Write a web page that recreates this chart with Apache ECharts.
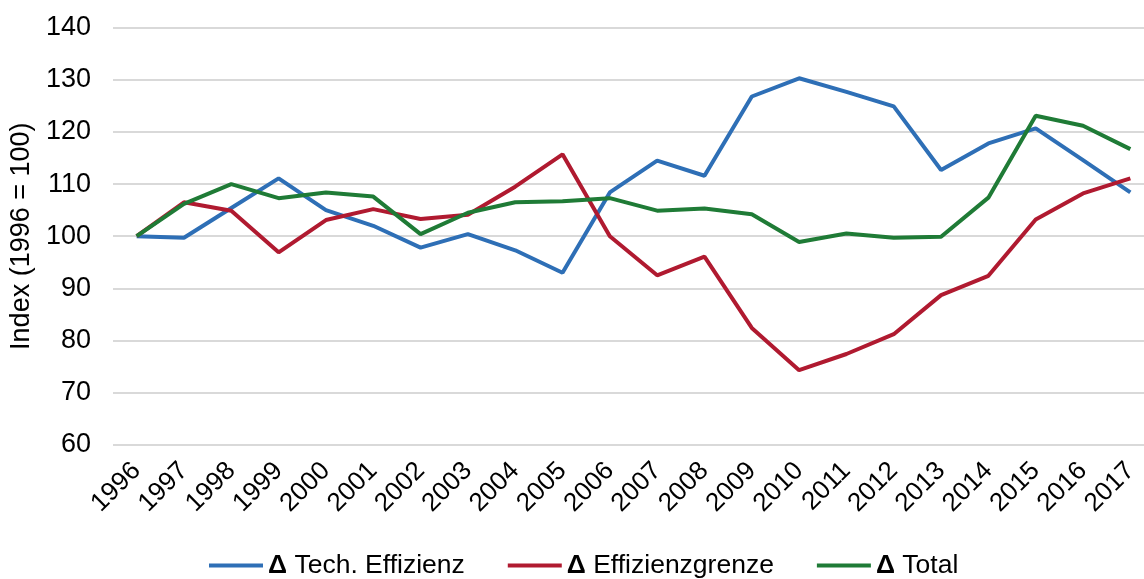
<!DOCTYPE html>
<html>
<head>
<meta charset="utf-8">
<script src="https://cdn.jsdelivr.net/npm/echarts@6/dist/echarts.min.js"></script>
<style>
  html, body { margin: 0; padding: 0; background: #fff; }
  #container { width: 1144px; height: 579px; }
</style>
</head>
<body>
<div id="container"></div>
<script>
var dom = document.getElementById('container');
var myChart = echarts.init(dom, null, { renderer: 'canvas' });

// Jahre (Kategorien)
var years = ['1996', '1997', '1998', '1999', '2000', '2001', '2002', '2003', '2004', '2005', '2006',
    '2007', '2008', '2009', '2010', '2011', '2012', '2013', '2014', '2015', '2016', '2017'];

// Indexwerte
var techEffizienz = [100, 99.7, 105.4, 111.1, 105.0, 102.0, 97.8, 100.4, 97.3, 93.0, 108.4,
    114.5, 111.6, 126.8, 130.3, 127.7, 124.9, 112.7, 117.8, 120.7, 114.6, 108.4];
var effizienzgrenze = [100, 106.5, 104.9, 96.9, 103.1, 105.2, 103.3, 104.1, 109.5, 115.7, 100.0,
    92.5, 96.1, 82.4, 74.3, 77.4, 81.2, 88.7, 92.4, 103.2, 108.2, 111.1];
var total = [100, 106.2, 110.0, 107.3, 108.4, 107.6, 100.4, 104.5, 106.5, 106.7, 107.3,
    104.9, 105.3, 104.2, 98.9, 100.5, 99.7, 99.9, 107.4, 123.1, 121.2, 116.7];

var seriesNames = ['Δ Tech. Effizienz', 'Δ Effizienzgrenze', 'Δ Total'];
var colors = ['#2e6fb6', '#b01a30', '#1f7b36'];
var font = 'Liberation Sans, Arial, sans-serif';
var fs = 27;

function mkLine(name, data, color) {
    return {
        name: name,
        type: 'line',
        data: data,
        symbol: 'none',
        lineStyle: { color: color, width: 4 },
        itemStyle: { color: color }
    };
}

var option = {
    animation: false,
    textStyle: { fontFamily: font },
    grid: {
        left: 113,
        right: -10,
        top: 27.7,
        bottom: 134.3,
        containLabel: false,
        outerBoundsMode: 'none'
    },
    legend: {
        data: seriesNames,
        left: 209,
        bottom: 0,
        padding: 0,
        itemGap: 43,
        itemWidth: 54,
        itemHeight: 4,
        icon: 'rect',
        formatter: function (name) {
            return '{d|Δ}' + name.slice(1);
        },
        textStyle: {
            fontFamily: font,
            fontSize: 26.5,
            color: '#000',
            rich: { d: { fontFamily: font, fontSize: 26.5, fontWeight: 'bold', color: '#000' } }
        }
    },
    xAxis: {
        type: 'category',
        data: years,
        boundaryGap: true,
        axisLine: { show: false },
        axisTick: { show: false },
        axisLabel: {
            interval: 0,
            rotate: 45,
            margin: 22,
            fontFamily: font,
            fontSize: 26,
            color: '#000'
        }
    },
    yAxis: {
        type: 'value',
        min: 60,
        max: 140,
        interval: 10,
        name: 'Index (1996 = 100)',
        nameLocation: 'middle',
        nameGap: 76,
        nameTextStyle: { fontFamily: font, fontSize: fs, color: '#000' },
        axisLine: { show: false },
        axisTick: { show: false },
        axisLabel: { margin: 22, fontFamily: font, fontSize: fs, color: '#000' },
        splitLine: { lineStyle: { color: '#d9d9d9', width: 2 } }
    },
    series: [
        mkLine(seriesNames[0], techEffizienz, colors[0]),
        mkLine(seriesNames[1], effizienzgrenze, colors[1]),
        mkLine(seriesNames[2], total, colors[2])
    ]
};

myChart.setOption(option);
</script>
</body>
</html>
